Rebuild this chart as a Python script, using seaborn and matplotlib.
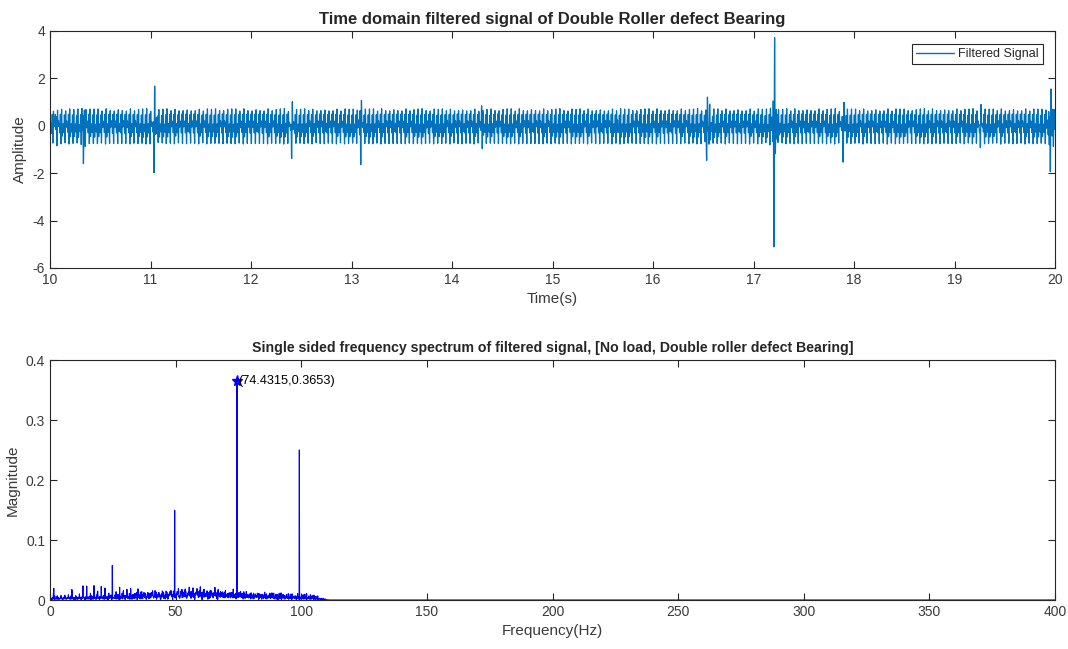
import numpy as np
import pandas as pd
import matplotlib
matplotlib.use("Agg")
import matplotlib.pyplot as plt
from matplotlib.lines import Line2D
import seaborn as sns

# ---- signal description -------------------------------------------------
T_START = 10.0
N_SAMPLES = 10000
PEAK_FREQ = 74.4315          # dominant defect harmonic (Hz)
PEAK_MAG = 0.3653            # its single-sided magnitude

# harmonics of the roller defect frequency
HARM_FREQ = [24.8105, 49.621, 74.4315, 99.242]
HARM_AMP = [0.055, 0.138, 0.3653, 0.248]
HARM_PHASE = [0.0, 0.9, 2.3, 4.1]

# short roller knocks, one per defect period, signed by the roller index in the cage
CAGE_WEIGHTS = [0.0, 0.45, 0.45, -0.45, 0.45, -0.45, -0.45, -0.45, 0.45,
                0.45, -0.45, -0.45, -0.45, 0.45, -0.45, 0.45, 0.45]
KNOCK_TAU = 0.002
KNOCK_RISE = 0.0005

# larger impact transients: time (s), first-extreme amplitude, ring freq (Hz), decay (s)
IMPACT_T = [10.05, 10.33, 11.03, 12.40, 13.09, 14.29, 15.65, 16.53, 17.20, 17.89, 19.25, 19.95]
IMPACT_A = [0.45, -2.1, -1.9, -1.75, -1.25, 0.5, -0.4, -1.9, -5.4, -2.4, -0.9, -2.6]
IMPACT_FR = [35, 55, 55, 60, 60, 45, 60, 50, 62, 58, 40, 60]
IMPACT_TAU = [0.010, 0.007, 0.012, 0.006, 0.008, 0.010, 0.006, 0.015, 0.0105, 0.007, 0.010, 0.009]
RISE_TAU = 0.001

# low-pass band edges of the filter (Hz)
PASS_EDGE = 103.0
STOP_EDGE = 112.0

TIME_TICKS = list(range(10, 21))
AMP_TICKS = [-6, -4, -2, 0, 2, 4]
FREQ_TICKS = list(range(0, 401, 50))
MAG_TICKS = [0, 0.1, 0.2, 0.3, 0.4]
MAG_LABELS = ["0", "0.1", "0.2", "0.3", "0.4"]


def burst(dt, amp, ring, tau, rise):
    """Decaying ring-down with a smooth onset; its envelope peaks at `amp`."""
    out = np.zeros_like(dt)
    m = dt >= 0
    tp = np.log(tau / rise) * tau * rise / (tau - rise)
    norm = np.exp(-tp / tau) - np.exp(-tp / rise)
    env = (np.exp(-dt[m] / tau) - np.exp(-dt[m] / rise)) / norm
    out[m] = amp * env * np.cos(2 * np.pi * ring * (dt[m] - tp))
    return out


# ---- build the filtered signal ------------------------------------------
fs = PEAK_FREQ * N_SAMPLES / 744          # puts each harmonic on an FFT bin
t = T_START + np.arange(N_SAMPLES) / fs
rel = t - T_START
sig = np.zeros(N_SAMPLES)
for f, a, ph in zip(HARM_FREQ, HARM_AMP, HARM_PHASE):
    sig += a * np.cos(2 * np.pi * f * rel + ph)

n_cycles = int(rel[-1] * HARM_FREQ[0]) + 1
for k in range(n_cycles):
    w = CAGE_WEIGHTS[k % len(CAGE_WEIGHTS)]
    if w:
        sig += burst(t - (T_START + k / HARM_FREQ[0]), w, 0.0, KNOCK_TAU, KNOCK_RISE)

for t0, a, fr, tau in zip(IMPACT_T, IMPACT_A, IMPACT_FR, IMPACT_TAU):
    sig += burst(t - t0, a, fr, tau, RISE_TAU)

freqs = np.fft.rfftfreq(N_SAMPLES, 1 / fs)
spec = np.fft.rfft(sig)
mask = np.ones_like(freqs)
band = (freqs > PASS_EDGE) & (freqs < STOP_EDGE)
mask[band] = 0.5 * (1 + np.cos(np.pi * (freqs[band] - PASS_EDGE) / (STOP_EDGE - PASS_EDGE)))
mask[freqs >= STOP_EDGE] = 0.0
filtered = np.fft.irfft(spec * mask, N_SAMPLES)

mag = 2 * np.abs(np.fft.rfft(filtered)) / N_SAMPLES
mag[0] /= 2

time_df = pd.DataFrame({"Time(s)": t, "Amplitude": filtered})
freq_df = pd.DataFrame({"Frequency(Hz)": freqs, "Magnitude": mag})
freq_df = freq_df[freq_df["Frequency(Hz)"] <= 400]

# ---- figure -------------------------------------------------------------
sns.set_style("ticks")
plt.rcParams["font.family"] = ["Liberation Sans", "DejaVu Sans"]
AX_COL = "#262626"
TXT_COL = "#3a3a3a"
plt.rcParams.update({
    "axes.edgecolor": AX_COL, "axes.linewidth": 0.8,
    "xtick.color": AX_COL, "ytick.color": AX_COL,
    "xtick.labelcolor": TXT_COL, "ytick.labelcolor": TXT_COL,
    "xtick.direction": "in", "ytick.direction": "in",
    "xtick.top": True, "ytick.right": True,
    "xtick.major.size": 5, "ytick.major.size": 5,
    "xtick.labelsize": 10, "ytick.labelsize": 10,
    "axes.unicode_minus": False,
    "path.simplify": False,
})

fig = plt.figure(figsize=(10.68, 6.49), dpi=100)
W, H = 1068, 649
ax1 = fig.add_axes([50 / W, 1 - 268 / H, 1005 / W, 237 / H])
ax2 = fig.add_axes([50 / W, 1 - 600 / H, 1005 / W, 240 / H])

SIG_COL = "#0072BD"
sns.lineplot(data=time_df, x="Time(s)", y="Amplitude", ax=ax1, color=SIG_COL,
             linewidth=0.9, estimator=None, sort=False)
ax1.set_xlim(10, 20)
ax1.set_ylim(-6, 4)
ax1.set_xticks(TIME_TICKS)
ax1.set_yticks(AMP_TICKS)
ax1.set_xlabel("Time(s)", fontsize=11, color=TXT_COL)
ax1.set_ylabel("Amplitude", fontsize=11, color=TXT_COL)
ax1.set_title("Time domain filtered signal of Double Roller defect Bearing",
              fontsize=12, fontweight="bold", pad=5)
handle = Line2D([], [], color=SIG_COL, linewidth=1.0)
leg = ax1.legend([handle], ["Filtered Signal"], loc="upper right", fontsize=9,
                 frameon=True, fancybox=False, framealpha=1, edgecolor=AX_COL,
                 handlelength=3.0, handletextpad=0.3, borderaxespad=1.0, borderpad=0.35)
leg.get_frame().set_linewidth(0.8)

sns.lineplot(data=freq_df, x="Frequency(Hz)", y="Magnitude", ax=ax2, color="blue",
             linewidth=0.8, estimator=None, sort=False)
ax2.plot([PEAK_FREQ], [PEAK_MAG], marker="*", color="blue", markersize=8, linestyle="none")
ax2.text(PEAK_FREQ + 0.5, PEAK_MAG, f"({PEAK_FREQ},{PEAK_MAG})", fontsize=9.2,
         va="center", ha="left", color="black")
ax2.set_xlim(0, 400)
ax2.set_ylim(0, 0.4)
ax2.set_xticks(FREQ_TICKS)
ax2.set_yticks(MAG_TICKS)
ax2.set_yticklabels(MAG_LABELS)
ax2.set_xlabel("Frequency(Hz)", fontsize=11, color=TXT_COL)
ax2.set_ylabel("Magnitude", fontsize=11, color=TXT_COL)
ax2.set_title("Single sided frequency spectrum of filtered signal, [No load, Double roller defect Bearing]",
              fontsize=10.2, fontweight="bold", pad=6)

for ax in (ax1, ax2):
    for s in ax.spines.values():
        s.set_visible(True)

fig.savefig("out.png", dpi=100)
